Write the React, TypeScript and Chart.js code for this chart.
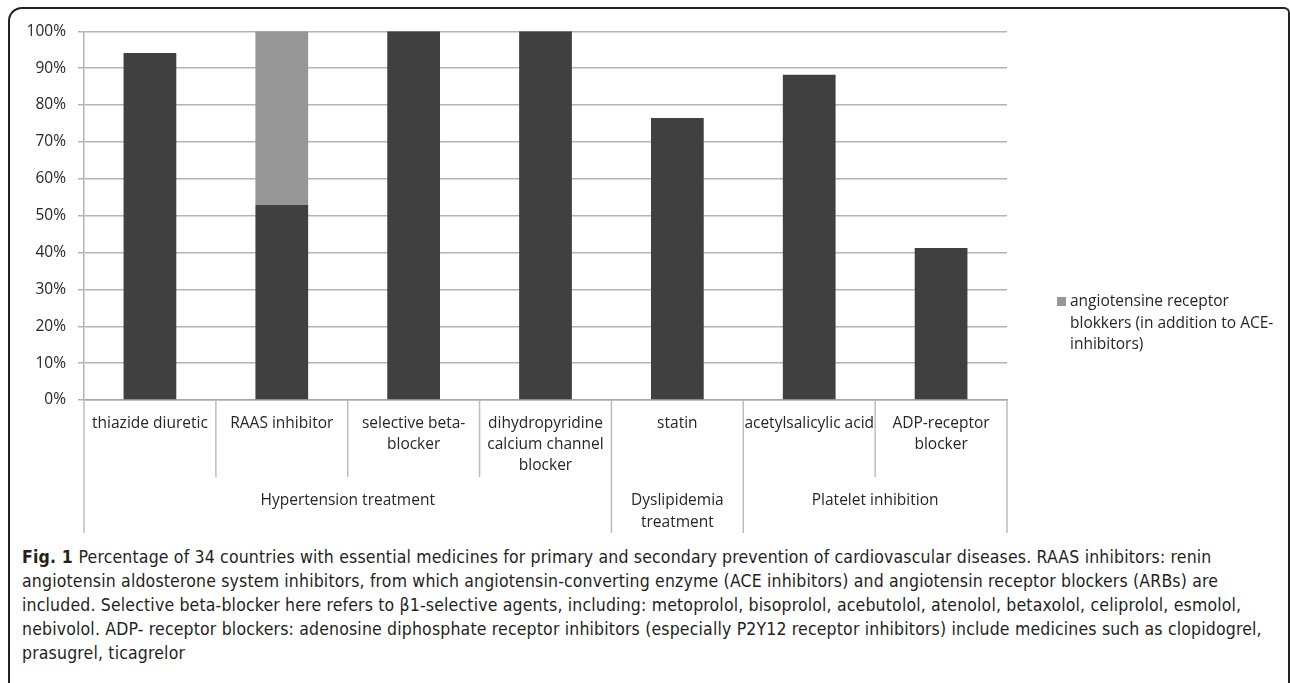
import React, { useEffect, useRef } from "react";
import { Chart, registerables } from "chart.js";

Chart.register(...registerables);

const categoryLines: string[][] = [
  ["thiazide diuretic"],
  ["RAAS inhibitor"],
  ["selective beta-", "blocker"],
  ["dihydropyridine", "calcium channel", "blocker"],
  ["statin"],
  ["acetylsalicylic acid"],
  ["ADP-receptor", "blocker"],
];
const groupLabels: string[][] = [["Hypertension treatment"], ["Dyslipidemia", "treatment"], ["Platelet inhibition"]];
const groupStarts = [0, 4, 5];
const groupEnds = [3, 4, 6];

const baseValues = [94.1, 52.9, 100, 100, 76.5, 88.2, 41.2];
const arbValues = [0, 47.1, 0, 0, 0, 0, 0];
const arbLegendLines = ["angiotensine receptor", "blokkers (in addition to ACE-", "inhibitors)"];

const captionLines = [
  "Percentage of 34 countries with essential medicines for primary and secondary prevention of cardiovascular diseases. RAAS inhibitors: renin",
  "angiotensin aldosterone system inhibitors, from which angiotensin-converting enzyme (ACE inhibitors) and angiotensin receptor blockers (ARBs) are",
  "included. Selective beta-blocker here refers to β1-selective agents, including: metoprolol, bisoprolol, acebutolol, atenolol, betaxolol, celiprolol, esmolol,",
  "nebivolol. ADP- receptor blockers: adenosine diphosphate receptor inhibitors (especially P2Y12 receptor inhibitors) include medicines such as clopidogrel,",
  "prasugrel, ticagrelor",
];

const FONT = "'Open Sans', 'Noto Sans', sans-serif";

const multiLevelPlugin = {
  id: "multiLevel",
  afterDraw(chart: any) {
    const ctx = chart.ctx;
    const x = chart.scales.x;
    const area = chart.chartArea;
    const n = categoryLines.length;
    const w = (area.right - area.left) / n;
    const bottom = area.bottom;
    ctx.save();
    ctx.strokeStyle = "#bdbdbd";
    ctx.lineWidth = 1.5;
    const groupBounds = new Set<number>([0, n]);
    groupStarts.forEach((s) => groupBounds.add(s));
    for (let i = 0; i <= n; i++) {
      const px = area.left + i * w;
      const full = groupBounds.has(i);
      ctx.beginPath();
      ctx.moveTo(px, bottom);
      ctx.lineTo(px, bottom + (full ? 133 : 77));
      ctx.stroke();
    }
    ctx.fillStyle = "#262626";
    ctx.font = `15.5px ${FONT}`;
    ctx.textAlign = "center";
    ctx.textBaseline = "middle";
    categoryLines.forEach((lines, i) => {
      const cx = x.getPixelForValue(i);
      lines.forEach((ln, j) => ctx.fillText(ln, cx, bottom + 24 + j * 21));
    });
    groupLabels.forEach((lines, g) => {
      const l = area.left + groupStarts[g] * w;
      const r = area.left + (groupEnds[g] + 1) * w;
      const cx = (l + r) / 2;
      lines.forEach((ln, j) => ctx.fillText(ln, cx, bottom + 101 + j * 22));
    });
    const ds = chart.data.datasets[1];
    ctx.fillStyle = ds.backgroundColor;
    ctx.fillRect(1047, 287, 9, 9);
    ctx.fillStyle = "#262626";
    ctx.textAlign = "left";
    arbLegendLines.forEach((ln, j) => ctx.fillText(ln, 1060, 292 + j * 21.5));
    ctx.restore();
  },
};

export default function App() {
  const ref = useRef<HTMLCanvasElement>(null);
  useEffect(() => {
    if (!ref.current) return;
    const chart = new Chart(ref.current, {
      type: "bar",
      data: {
        labels: categoryLines.map((l) => l.join(" ")),
        datasets: [
          { label: "", data: baseValues, backgroundColor: "#404040", categoryPercentage: 1, barPercentage: 0.4 },
          { label: arbLegendLines.join(" "), data: arbValues, backgroundColor: "#969696", categoryPercentage: 1, barPercentage: 0.4 },
        ],
      },
      options: {
        responsive: false,
        animation: false,
        devicePixelRatio: 1,
        layout: { padding: { top: 21, right: 281, left: 0, bottom: 0 } },
        plugins: { legend: { display: false }, tooltip: { enabled: false } },
        scales: {
          x: {
            stacked: true,
            ticks: { display: false },
            grid: { display: false },
            border: { display: true, color: "#a6a6a6", width: 1.5 },
            afterFit: (s: any) => { s.height = 140; },
          },
          y: {
            stacked: true,
            min: 0,
            max: 100,
            ticks: {
              stepSize: 10,
              padding: 12,
              color: "#262626",
              font: { family: FONT, size: 15.5 },
              callback: (v: any) => `${v}%`,
            },
            grid: { color: "#b4b4b4", lineWidth: 1.5, tickLength: 6, drawTicks: true },
            border: { display: true, color: "#b4b4b4", width: 1.5 },
            afterFit: (s: any) => { s.width = 74; },
          },
        },
      },
      plugins: [multiLevelPlugin],
    });
    return () => chart.destroy();
  }, []);

  return (
    <div style={{ position: "absolute", left: 0, top: 0, width: 1290, height: 683, overflow: "hidden", background: "#fff" }}>
      <div
        style={{
          position: "absolute",
          left: 8,
          top: 7,
          width: 1282,
          height: 700,
          boxSizing: "border-box",
          borderLeft: "2px solid #222",
          borderTop: "2px solid #222",
          borderRight: "2px solid #222",
          borderTopLeftRadius: 14,
          borderTopRightRadius: 6,
        }}
      />
      <canvas ref={ref} width={1278} height={530} style={{ position: "absolute", left: 10, top: 10, width: 1278, height: 530 }} />
      <div
        style={{
          position: "absolute",
          left: 22,
          top: 545,
          fontFamily: "'Liberation Sans Narrow', 'DejaVu Sans Condensed', 'Liberation Sans', sans-serif",
          fontSize: 17.5,
          letterSpacing: "0.17px",
          lineHeight: "24px",
          color: "#231f20",
          whiteSpace: "nowrap",
        }}
      >
        {captionLines.map((ln, i) => (
          <div key={i}>
            {i === 0 ? <b>Fig. 1 </b> : null}
            {ln}
          </div>
        ))}
      </div>
    </div>
  );
}
